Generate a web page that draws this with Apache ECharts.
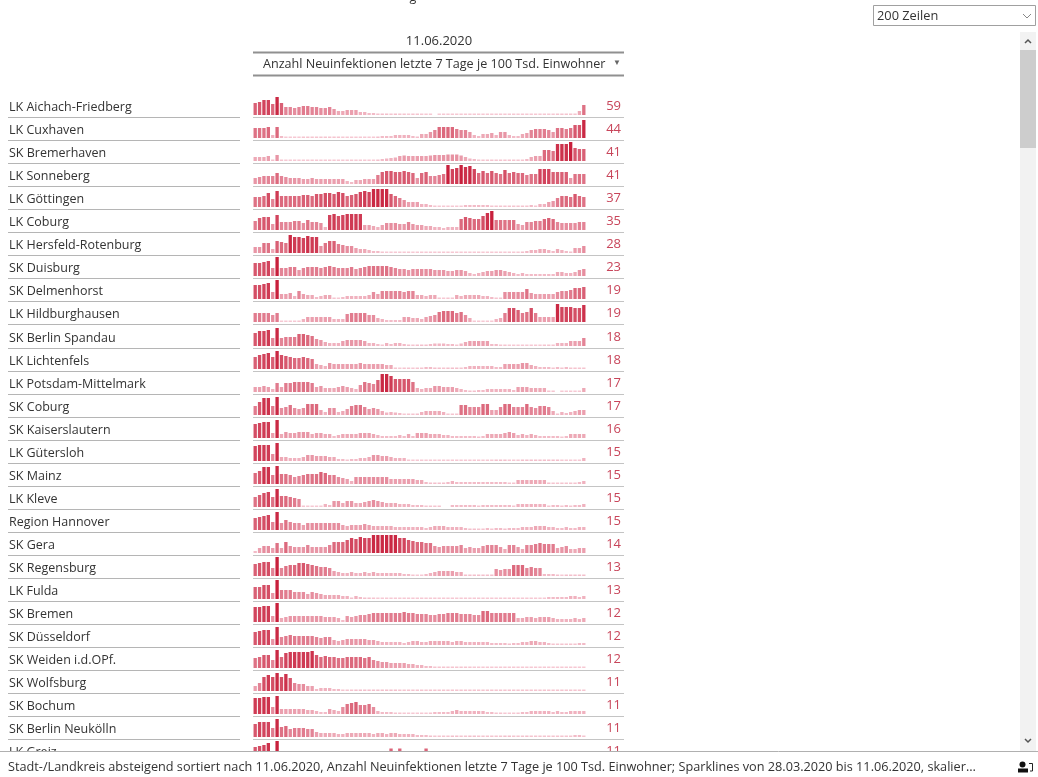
<!DOCTYPE html>
<html><head><meta charset="utf-8">
<style>html,body{margin:0;padding:0;background:#fff}#chart{width:1038px;height:777px;filter:blur(0.5px)}</style>
<script src="https://cdn.jsdelivr.net/npm/echarts@6/dist/echarts.min.js"></script>
</head><body><div id="chart"></div>
<script>
const dayCount = 76;
const rowNames = ["LK Aichach-Friedberg","LK Cuxhaven","SK Bremerhaven","LK Sonneberg","LK Göttingen","LK Coburg","LK Hersfeld-Rotenburg","SK Duisburg","SK Delmenhorst","LK Hildburghausen","SK Berlin Spandau","LK Lichtenfels","LK Potsdam-Mittelmark","SK Coburg","SK Kaiserslautern","LK Gütersloh","SK Mainz","LK Kleve","Region Hannover","SK Gera","SK Regensburg","LK Fulda","SK Bremen","SK Düsseldorf","SK Weiden i.d.OPf.","SK Wolfsburg","SK Bochum","SK Berlin Neukölln","LK Greiz"];
const lastValues = [59,44,41,41,37,35,28,23,19,19,18,18,17,17,16,15,15,15,15,14,13,13,12,12,12,11,11,11,11];
// Sparkline readings, relative to each row's own scale (rows are scaled independently)
const s00=[12,13,15,15,11,18,12,8,8,7,8,9,9,8,8,7,7,8,6,4,4,5,5,5,3,3,2,2,1.5,1.5,1.5,1,1.5,1,1,.5,1,1,.5,.5,.5,null,.5,.5,.5,.5,.5,.5,.5,.5,.5,.5,.5,.5,.5,.5,.5,.5,.5,.5,.5,.5,.5,.5,.5,.5,.5,.5,.5,1,1,1,1,1,4,10];
const s01=[10,10,10,11,3,11,2,.5,.5,.5,.5,1,1,1,1,1,1,1,1,1,.5,.5,.5,.5,.5,.5,.5,.5,1.5,2,2,2,3,3,3,3,2,1.5,4,4,6,8,11,11,11,11,9,8,8,6,3,2,4,4,5,3,6,6,3,2,2,4,5,8,9,9,9,8,6,10,10,9,10,13,13,18];
const s02=[4,4,4,5,1.5,6,1,.5,.5,.5,.5,.5,.5,.5,.5,.5,.5,.5,.5,.5,.5,.5,.5,.5,.5,.5,.5,.5,1.5,2,2.5,3,3.5,5,5.5,5,5,5,5,5,5.5,6,6,6,6.5,6.5,6.5,5.5,4,2.5,2,1,1,1,1,1,1,1,1,1,1,1,2,4,5,5,11,11,10,17,17,17,19,13,12,12];
const s03=[6,7,8,8,8,11,8,7,6,6,6,5,5,6,5,5,5,5,5,5,5,3,2,4,4,5,5,5,9,12,13,13,12,12,13,12,11,6,11,12,8,8,9,10,19,15,16,19,17,18,15,11,13,11,13,11,10,14,11,12,11,11,9,10,10,15,15,15,12,12,12,12,6,10,10,10];
const s04=[10,10,11,14,8,16,11,11,11,11,11,12,12,11,13,13,14,14,13,15,14,11,12,13,15,16,15,18,18,18,18,13,11,9,7,5,5,5,3,3,2,1,.5,.5,.5,.5,.5,.5,2,2,2,2,2,2,1,1,1,1,1,1,1,1,1,2,1,3,3,5,6,9,11,11,10,13,11,10];
const s05=[9,12,13,13,6,15,8,8,8,9,9,7,10,8,8,7,3,15,16,14,15,16,16,16,16,5,5,4,3,5,7,7,7,6,6,8,6,5,5,4,4,3,3,2,3,3,3,11,13,12,11,11,14,17,19,10,10,10,10,10,6,5,8,8,9,9,11,12,11,8,7,7,7,7,8,8];
const s06=[6,6,10,10,4,12,11,10,18,16,16,15,17,16,16,7,10,12,12,9,8,7,7,5,4,4,3,2,2,1,.5,.5,.5,.5,.5,.5,.5,.5,.5,.5,.5,.5,.5,.5,.5,.5,.5,.5,.5,.5,.5,.5,.5,.5,.5,.5,.5,.5,.5,.5,.5,1.5,2,3,3,4,4,3,2,4,3,2,1.5,5,5,7];
const s07=[13,13,14,15,8,19,8,8,9,9,6,8,9,9,9,8,9,10,9,8,8,8,9,7,8,9,10,10,10,10,10,9,8,7,7,6,7,7,7,7,7,6,6,6,5,5,6,6,5,3,2,3,4,5,5,6,6,5,4,3,2,3,2,2,2,2,2,2,2,4,4,3,3,4,6,7];
const s08=[14,14,15,16,7,19,5,5,6,3,8,5,4,4,2,3,4,4,1,.5,2,3,3,3,3,3,4,7,5,8,8,8,8,8,7,8,8,4,4,3,4,4,1,.5,1,1,4,3,4,4,4,4,3,3,2,1,1,7,7,7,7,7,10,6,5,5,5,5,5,7,8,8,9,11,11,12];
const s09=[9,9,9,9,7,9,.5,.5,.5,.5,1,3,5,5,5,5,5,5,3,3,3,8,9,9,9,9,7,7,4,3,2,2,2,2,5,5,4,4,3,5,6,7,10,11,11,11,9,10,7,4,.5,.5,.5,.5,.5,3,4,9,14,14,12,9,10,14,9,5,5,5,5,18,15,15,15,14,14,17];
const s10=[13,15,15,16,8,18,8,9,9,9,12,12,11,10,7,6,4,3,3,3,5,6,6,6,6,5,3,3,2,1,3,2,3,3,2,1.5,1,1.5,1.5,1.5,2,2.5,2.5,2.5,2,2,1,2.5,4,5,5,5,5,5,2,2,1,1,.5,.5,.5,.5,.5,.5,.5,.5,1,1,1,3,3,3,5,5,5,8];
const s11=[12,14,15,16,12,18,14,13,12,11,11,12,11,10,5,4,3,6,5,5,5,5,5,5,6,5,5,5,5,5,4,4,1,.5,1,1,.5,1,1,2,2,1.5,1.5,1,1.5,1.5,1.5,1,2,3,3,3,3,3,3,2,2,5,5,5,5,6,6,4,3,2,2,2,1,2,1,2,1,1,1,1];
const s12=[5,5,6,5,3,9,5,9,9,10,10,10,10,9,5,6,4,4,4,5,6,5,4,3,7,10,9,8,12,18,18,16,13,13,13,13,10,4,3,4,4,6,6,5,5,5,4,3,2,1.5,1.5,2,2,3,3,3,3,3,3,2,5,5,5,4,4,4,4,1,1,null,.5,.5,.5,.5,.5,4];
const s13=[9,13,17,17,9,18,7,8,10,7,6,7,11,11,11,5,3,7,7,3,4,6,9,10,10,8,6,7,6,4,2.5,3,2.5,2,.5,1,1,1.5,3,4,4,4,4,3,1,1,1,10,10,8,8,8,11,11,5,5,8,11,11,8,8,8,11,8,7,9,9,8,4,1.5,3,2,3,4,5,5];
const s14=[14,15,16,16,5,18,4,6,5,5,6,6,6,4,5,5,4,4,2,3,4,4,4,4,5,5,5,4,3,2,2,2,2,3,2,4,2,5,5,5,4,4,4,3,3,2,2,2,2,2,2,1.5,2,4,4,4,4,5,6,5,3,4,3,4,3,2,2,2,2,2,1,2,4,4,4,4];
const s15=[15,16,16,16,7,18,4,4,3,3,3,4,6,6,5,5,5,4,4,2,2,1,2,2,3,3,4,6,6,5,5,4,3,3,3,.5,.5,.5,.5,.5,.5,.5,.5,.5,.5,.5,.5,.5,.5,.5,.5,.5,.5,.5,.5,1.5,1.5,1.5,.5,.5,.5,1.5,1.5,1.5,1.5,1.5,1.5,1.5,1.5,1.5,.5,.5,.5,.5,.5,3];
const s16=[11,13,17,17,9,18,10,10,9,7,8,9,10,10,10,12,11,9,9,7,6,5,3,7,7,7,7,7,7,7,7,5,5,5,5,5,5,4,4,2,1.5,1.5,1.5,1.5,2,3,2,2,2,2,2,2,2,2,2,2,2,2,1,1,4,4,4,4,4,4,4,1.5,1,1,1,1,1,1,2,3];
const s17=[10,12,14,15,10,18,11,11,10,9,8,1,.5,.5,.5,.5,3,2,6,6,4,6,6,4,4,5,6,7,6,5,4,4,4,3,3,3,2,2,2,1,1,1,1,null,null,2,2,2,2,2,2,1,2,2,2,2,2,2,2,1,3,3,3,3,3,3,3,1,2,2,1,2,1,2,2,3];
const s18=[12,13,14,15,8,18,7,10,8,7,7,5,7,7,7,7,7,7,7,7,5,4,5,5,5,6,5,4,4,4,4,4,3,3,3,3,3,3,3,2,3,4,4,4,3,3,3,3,2,1.5,1.5,1,1,2,1,2,2,1.5,2,2,2,3,3,3,4,4,4,3,3,2,2,3,2,2,3,3];
const s19=[2,5,7,7,5,10,5,11,7,6,6,6,8,6,6,6,6,8,11,11,11,13,15,14,16,15,15,18,18,18,18,18,18,15,15,13,12,11,11,10,10,7,6,7,7,7,7,8,5,6,5,5,7,8,8,8,6,4,8,8,6,4,8,8,9,10,9,9,9,5,6,7,4,4,5,5];
const s20=[12,13,14,14,8,19,8,10,11,11,13,13,12,11,10,9,9,8,5,4,3,3,4,3,3,4,3,4,3,3,3,3,3,3,2,2,1,.5,.5,2,3,4,5,5,5,5,4,4,1.5,1.5,1.5,1.5,1.5,1.5,1.5,7,6,7,7,11,11,11,8,9,8,8,2,2,2,1.5,.5,1.5,1.5,1.5,1.5,1.5];
const s21=[12,12,14,14,6,19,9,9,9,7,7,7,5,7,6,5,4,4,4,4,3,3,1.5,3,2,1.5,1.5,1,.5,.5,.5,.5,.5,.5,.5,.5,.5,.5,.5,.5,.5,.5,.5,.5,.5,.5,.5,.5,.5,.5,.5,.5,.5,.5,.5,.5,.5,.5,.5,.5,.5,.5,.5,.5,.5,.5,.5,2,2,2,2,2,3,3,2,3];
const s22=[15,15,16,16,6,19,4,5,6,6,6,6,6,6,6,6,5,5,5,4,2,6,5,6,7,7,8,9,9,9,9,9,9,9,10,9,9,8,8,8,7,7,8,8,9,9,9,8,8,8,7,7,11,11,9,9,9,9,9,9,4,4,5,5,4,5,5,5,4,3,3,3,3,4,3,4];
const s23=[13,14,15,15,6,18,8,9,10,9,9,9,9,9,8,7,8,8,5,4,5,6,6,6,6,6,5,5,4,3,3,3,3,3,2,3,4,4,3,3,4,4,4,4,4,3,4,4,3,3,3,3,3,3,2,2,2,2,1.5,2,2,3,3,4,4,3,3,2,1,1,1,1,1,1,2,2];
const s24=[10,11,13,13,8,18,11,15,16,16,16,16,16,17,13,11,12,11,11,10,10,11,11,11,11,10,11,8,7,6,6,5,5,5,5,4,4,3,3,2,2,1,1,1,1,1,1,1,1,1,.5,.5,.5,.5,.5,.5,.5,.5,.5,.5,.5,.5,.5,.5,.5,.5,.5,.5,.5,.5,.5,.5,.5,.5,.5,.5];
const s25=[5,8,14,16,14,18,14,17,13,8,7,7,5,5,2,3,3,3,2,2,1,1,1,1.5,1.5,1.5,1.5,1.5,1.5,1.5,1.5,1.5,1.5,1,1,1,1,1,1,1,1,1,1,1,1,1,1,1,1,1,1,1,1,1,1,1,1,1,1,1,1,1,1,1,1,1,1,1,1,1,1,1,1,1,1,1];
const s26=[16,16,17,17,7,18,5,5,5,5,5,5,4,4,3,2,2,5,4,3,7,10,11,12,9,9,10,7,3,2,2,2,1,1,.5,.5,.5,.5,.5,.5,1,2,2,2,2,3,4,3,3,3,3,3,3,2,2,1,1,.5,.5,.5,1,2,2,3,3,3,3,3,2,3,2,2,3,3,3,3];
const s27=[13,15,15,15,9,18,10,11,8,9,9,9,8,8,5,4,4,4,4,3,3,4,4,4,4,4,4,3,4,4,3,4,4,3,3,3,3,2,2,2,1.5,1,1,1,1,1.5,1.5,1,1,1.5,1.5,1,1,1,1,1,1,1.5,1.5,1,1,1,1.5,1,1,1,1,1,1,1,1,1,1,2,2,1];
const s28=[13,14,15,17,8,19,5,5,4,4,3,3,3,3,3,3,3,3,2,2,2,2,2,2,2,2,2,2,3,3,3,11.5,3,11.5,3,3,3,3,3,11.5,3,3,3,3,3,3,3,3,2,2,2,2,2,2,2,2,2,2,2,2,2,2,2,2,2,2,2,2,2,2,2,2,2,2,2,2];
const sparklines=[s00,s01,s02,s03,s04,s05,s06,s07,s08,s09,s10,s11,s12,s13,s14,s15,s16,s17,s18,s19,s20,s21,s22,s23,s24,s25,s26,s27,s28];
const days = Array.from({length:dayCount},(_,i)=>i);

const font = '"Open Sans","Noto Sans",sans-serif';
const X0=253, W=333, PITCH=23.05, BASE=115, H=20;
const pale=[247,205,215], deep=[200,32,60];
function shade(v){const t=Math.min(1,v/19);return 'rgb('+pale.map((c,i)=>Math.round(c+(deep[i]-c)*t)).join(',')+')';}
const grids=[],xs=[],ys=[],series=[],g=[];
function txt(x,y,text,size,fill,align){g.push({type:'text',z:10,x:x,y:y,style:{text:text,font:size+'px '+font,fill:fill,textAlign:align||'left',textVerticalAlign:'middle'}});}
function line(x1,y1,x2,y2,color,w,z){g.push({type:'line',z:z||10,shape:{x1,y1,x2,y2},style:{stroke:color,lineWidth:w}});}
sparklines.forEach((vals,i)=>{
  const b=Math.round(BASE+i*PITCH);
  grids.push({left:X0,width:W,top:b-H,height:H,containLabel:false});
  xs.push({type:'category',gridIndex:i,data:days,show:false});
  ys.push({type:'value',gridIndex:i,min:0,max:H,show:false});
  series.push({type:'bar',xAxisIndex:i,yAxisIndex:i,data:vals,barWidth:'76%',barMinHeight:1.5,silent:true,animation:false,
    itemStyle:{color:p=>shade(p.value)}});
  txt(9,b-8,rowNames[i],12.5,'#333');
  txt(621,b-8.5,String(lastValues[i]),13,'#c8455a','right');
  line(8,b+2.5,240,b+2.5,'#b5b5b5',1);
  line(253,b+2.5,624,b+2.5,'#c4c4c4',1);
});
// header
txt(413,-3,'g',12.5,'#333','center');
txt(439,41.5,'11.06.2020',13,'#333','center');
line(253,52.5,624,52.5,'#909090',2);
txt(263,64.5,'Anzahl Neuinfektionen letzte 7 Tage je 100 Tsd. Einwohner',12.6,'#333');
txt(617,63,'▼',8,'#666','center');
line(253,75.5,624,75.5,'#909090',2);
// footer mask
g.push({type:'rect',z:50,shape:{x:0,y:751,width:1038,height:26},style:{fill:'#fff'}});
g.push({type:'line',z:51,shape:{x1:0,y1:751.5,x2:1038,y2:751.5},style:{stroke:'#b0b0b0',lineWidth:1}});
g.push({type:'text',z:51,x:8,y:767.5,style:{text:'Stadt-/Landkreis absteigend sortiert nach 11.06.2020, Anzahl Neuinfektionen letzte 7 Tage je 100 Tsd. Einwohner; Sparklines von 28.03.2020 bis 11.06.2020, skalier…',font:'12.7px '+font,fill:'#333',textVerticalAlign:'middle'}});
g.push({type:'circle',z:51,shape:{cx:1022.5,cy:764.5,r:3},style:{fill:'#111'}});
g.push({type:'rect',z:51,shape:{x:1018,y:768.5,width:10,height:4},style:{fill:'#111'}});
g.push({type:'polyline',z:51,shape:{points:[[1029,763.5],[1032.5,763.5],[1032.5,771],[1030,771]]},style:{stroke:'#222',lineWidth:1,fill:'none'}});
// dropdown + scrollbar
g.push({type:'rect',z:10,shape:{x:873.5,y:5.5,width:162,height:20},style:{fill:'#fff',stroke:'#a0a0a0',lineWidth:1}});
txt(877,16.5,'200 Zeilen',12.8,'#333');
g.push({type:'polyline',z:11,shape:{points:[[1023,14],[1027,18],[1031,14]]},style:{stroke:'#888',lineWidth:1,fill:'none'}});
g.push({type:'rect',z:10,shape:{x:1020,y:32,width:16,height:719},style:{fill:'#f2f2f2'}});
g.push({type:'rect',z:11,shape:{x:1020,y:50,width:16,height:98},style:{fill:'#cdcdcd'}});
g.push({type:'polyline',z:11,shape:{points:[[1025,43],[1028,40],[1031,43]]},style:{stroke:'#555',lineWidth:1.5,fill:'none'}});
g.push({type:'polyline',z:11,shape:{points:[[1025,739],[1028,742],[1031,739]]},style:{stroke:'#555',lineWidth:1.5,fill:'none'}});

const chart=echarts.init(document.getElementById('chart'),null,{renderer:'canvas'});
chart.setOption({animation:false,backgroundColor:'#fff',grid:grids,xAxis:xs,yAxis:ys,series:series,graphic:{elements:g}});
</script></body></html>
